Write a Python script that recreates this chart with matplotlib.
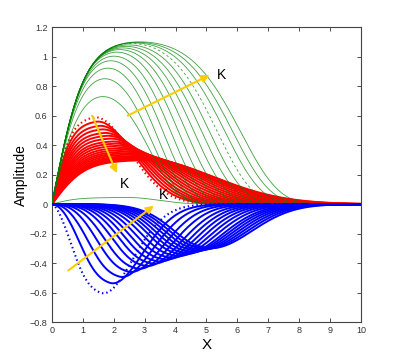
import numpy as np
import matplotlib
matplotlib.use("Agg")
import matplotlib.pyplot as plt

plt.rcParams['font.family'] = ['Liberation Sans', 'DejaVu Sans']

# ---------------- data ----------------
# green family: peak value, rise scale, sharpness of the cut-off,
# and the x where each curve comes down through y = 0.5
green_peak = [0.80, 0.93, 1.00, 1.045, 1.07, 1.09, 1.10, 1.105, 1.11, 1.115, 1.12, 1.12, 1.12, 1.12]
green_rise = [0.90, 0.93, 0.96, 0.98, 1.00, 1.01, 1.02, 1.03, 1.04, 1.05, 1.06, 1.06, 1.06, 1.06]
green_sharp = [4.5, 4.7, 4.9, 5.0, 5.1, 5.2, 5.3, 5.4, 5.5, 5.6, 5.7, 5.8, 5.9, 6.0]
green_half_x = [2.83, 3.08, 3.33, 3.58, 3.83, 4.08, 4.33, 4.58, 4.83, 5.08, 5.33, 5.58, 5.83, 6.08]
green_dashed_index = 10

# red family: peak position / peak value
red_peak_x = [1.35, 1.42, 1.50, 1.58, 1.66, 1.75, 1.84, 1.93, 2.02, 2.12,
              2.22, 2.32, 2.42, 2.52, 2.62, 2.72, 2.80, 2.88, 2.95, 3.00]
red_peak_y = [0.60, 0.57, 0.54, 0.515, 0.49, 0.47, 0.45, 0.43, 0.415, 0.40,
              0.385, 0.372, 0.36, 0.35, 0.34, 0.33, 0.322, 0.315, 0.308, 0.30]

# blue family: position / value of the minimum
blue_min_x = [1.45, 1.75, 2.05, 2.35, 2.62, 2.88, 3.10, 3.30, 3.50, 3.70,
              3.90, 4.10, 4.25, 4.40, 4.55, 4.70, 4.85, 5.00]
blue_min_y = [-0.62, -0.55, -0.505, -0.47, -0.447, -0.427, -0.41, -0.395, -0.381,
              -0.368, -0.356, -0.345, -0.335, -0.326, -0.318, -0.311, -0.305, -0.30]

# small green curve close to zero
small_peak_x, small_peak_y = 2.5, 0.045

x_ticks = [0, 1, 2, 3, 4, 5, 6, 7, 8, 9, 10]
y_ticks = [-0.8, -0.6, -0.4, -0.2, 0, 0.2, 0.4, 0.6, 0.8, 1.0, 1.2]
y_tick_labels = ['\u22120.8', '\u22120.6', '\u22120.4', '\u22120.2', '0', '0.2', '0.4',
                 '0.6', '0.8', '1', '1.2']

# arrows (tail, head) and K labels
arrow_green = ((2.45, 0.60), (5.10, 0.875))
arrow_red = ((1.30, 0.60), (2.10, 0.21))
arrow_blue = ((0.53, -0.45), (3.30, -0.01))
k_labels = [(5.35, 0.875), (2.20, 0.14), (3.45, 0.065)]

# ---------------- drawing ----------------
x = np.linspace(0, 10, 1200)

fig = plt.figure(figsize=(3.99, 3.62), dpi=100)
ax = fig.add_axes([0.13, 0.11, 0.775, 0.815])

GREEN = (0.0, 0.5, 0.0)
YEL = '#FFCC00'


def pulse(xx, h, r, m, q, s):
    rise = np.tanh((xx / r) ** m)
    d = np.clip(xx - q, 0, None)
    return h * rise * np.exp(-(d / s) ** 2)


# red
for i, (px, py) in enumerate(zip(red_peak_x, red_peak_y)):
    v = (px - red_peak_x[0]) / (red_peak_x[-1] - red_peak_x[0])
    r = 0.6 + 0.47 * v
    s = 1.63 + 1.57 * v
    y = pulse(x, py, r, 1.0, px, s)
    if i == 0:
        ax.plot(x, y, color='red', lw=1.5, ls=(0, (0.7, 1.4)), zorder=2)
    else:
        ax.plot(x, y, color='red', lw=1.4, zorder=2)

# green
for i, (h, r, n, xh) in enumerate(zip(green_peak, green_rise, green_sharp, green_half_x)):
    sc = xh / (-np.log(0.5 / h)) ** (1.0 / n)
    y = h * np.tanh(x / r) * np.exp(-(x / sc) ** n)
    ls = (0, (3, 3)) if i == green_dashed_index else '-'
    ax.plot(x, y, color=GREEN, lw=0.6, ls=ls, alpha=0.75, zorder=3)
# small green curve
ys = small_peak_y * np.tanh(x / 0.8) * np.exp(-(np.clip(x - small_peak_x, 0, None) / 1.3) ** 2)
ax.plot(x, ys, color=GREEN, lw=0.6, alpha=0.75, zorder=3)

# blue
for i, (mx, my) in enumerate(zip(blue_min_x, blue_min_y)):
    v = (mx - blue_min_x[0]) / (blue_min_x[-1] - blue_min_x[0])
    m = 1.6 + 3.55 * v
    r = 1.0 + 3.24 * v
    s = 1.47 + 0.43 * v
    y = pulse(x, my, r, m, mx + 0.12, s)
    if i == 0:
        ax.plot(x, y, color='blue', lw=1.5, ls=(0, (0.7, 1.4)), zorder=4)
    else:
        ax.plot(x, y, color='blue', lw=1.4, zorder=4)

# arrows
for (t, hd) in (arrow_green, arrow_red, arrow_blue):
    ax.annotate('', xy=hd, xytext=t,
                arrowprops=dict(arrowstyle='-|>', color=YEL, lw=1.5,
                                mutation_scale=11, shrinkA=0, shrinkB=0),
                zorder=6)
for (kx, ky) in k_labels:
    ax.text(kx, ky, 'K', fontsize=10, ha='left', va='center', zorder=7)

ax.set_xlim(0, 10)
ax.set_ylim(-0.8, 1.2)
ax.set_xticks(x_ticks)
ax.set_xticklabels([str(t) for t in x_ticks])
ax.set_yticks(y_ticks)
ax.set_yticklabels(y_tick_labels)
ax.tick_params(direction='in', length=3, width=0.6, labelsize=6.5, top=True, right=True,
               colors='#333333', pad=3)
for sp in ax.spines.values():
    sp.set_color('#444444')
    sp.set_linewidth(0.8)
ax.set_xlabel('X', fontsize=11, labelpad=2)
ax.set_ylabel('Amplitude', fontsize=10, labelpad=1)

fig.savefig('out.png', dpi=100)
